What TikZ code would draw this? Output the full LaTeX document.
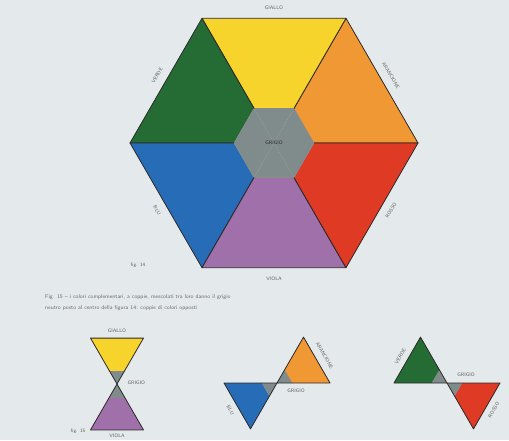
\documentclass[tikz,border=0pt]{standalone}
\usepackage{xcolor}
\usepackage{tikz}
\usetikzlibrary{calc}
\definecolor{paper}{RGB}{228,234,236}
\definecolor{ink}{RGB}{45,40,42}
\definecolor{giallo}{RGB}{246,212,44}
\definecolor{arancione}{RGB}{240,152,52}
\definecolor{rosso}{RGB}{222,58,36}
\definecolor{viola}{RGB}{160,112,170}
\definecolor{blu}{RGB}{38,108,182}
\definecolor{verde}{RGB}{36,108,52}
\definecolor{grigio}{RGB}{128,140,140}

% one coloured sector with its grey tip: centre, start angle, outer radius, inner radius, colour
\newcommand{\colsector}[5]{%
  \fill[#5] ($(#1)+(#2:#3)$) -- ($(#1)+(#2+60:#3)$) -- ($(#1)+(#2+60:#4)$) -- ($(#1)+(#2:#4)$) -- cycle;
  \fill[grigio] (#1) -- ($(#1)+(#2:#4)$) -- ($(#1)+(#2+60:#4)$) -- cycle;
  \draw[thinedge] ($(#1)+(#2:#4)$) -- ($(#1)+(#2+60:#4)$);
  \draw[edge] ($(#1)+(#2:#4)$) -- ($(#1)+(#2:#3)$) -- ($(#1)+(#2+60:#3)$) -- ($(#1)+(#2+60:#4)$);
}
% sides of the grey tip (small figures only)
\newcommand{\tipsides}[3]{%
  \draw[edge] ($(#1)+(#2:#3)$) -- (#1) -- ($(#1)+(#2+60:#3)$);
}

\begin{document}
\begin{tikzpicture}[x=1pt, y=1pt,
  lbl/.style={font=\sffamily\fontsize{5}{6}\selectfont, text=ink!75, inner sep=1.5pt},
  caption/.style={font=\sffamily\fontsize{5.5}{11}\selectfont, text=ink!70, align=left, anchor=north west, inner sep=0pt},
  edge/.style={draw=ink, line width=0.8pt, line join=round},
  thinedge/.style={draw=ink!55, line width=0.4pt}
]
\fill[paper] (0,0) rectangle (509,440);
\useasboundingbox (0,0) rectangle (509,440);

% big hexagon
\coordinate (hex) at (274,297);
\foreach \a/\c in {0/arancione,60/giallo,120/verde,180/blu,240/viola,300/rosso}
  \colsector{hex}{\a}{144}{40}{\c};

\node[lbl, text=ink] (hexgrigio) at (hex) {GRIGIO};
\node[lbl] (hexgiallo) at ($(hex)+(90:135)$) {GIALLO};
\node[lbl, rotate=-60] (hexarancione) at ($(hex)+(30:135)$) {ARANCIONE};
\node[lbl, rotate=60] (hexrosso) at ($(hex)+(330:135)$) {ROSSO};
\node[lbl] (hexviola) at ($(hex)+(270:136)$) {VIOLA};
\node[lbl, rotate=-60] (hexblu) at ($(hex)+(210:135)$) {BLU};
\node[lbl, rotate=60] (hexverde) at ($(hex)+(150:135)$) {VERDE};
\node[lbl] (fig14) at (138,175) {fig. 14};

\node[caption] (testo) at (45,146) {Fig. 15 -- i colori complementari, a coppie, mescolati tra loro danno il grigio\\
  neutro posto al centro della figura 14: coppie di colori opposti};

% complementary pairs
\coordinate (tipa) at (117,56);
\colsector{tipa}{60}{53}{15}{giallo}
\colsector{tipa}{240}{53}{15}{viola}
\tipsides{tipa}{60}{15}
\tipsides{tipa}{240}{15}
\node[lbl] (agiallo) at (117,109) {GIALLO};
\node[lbl, anchor=west] (agrigio) at (126,57) {GRIGIO};
\node[lbl] (aviola) at (117,4) {VIOLA};
\node[lbl] (fig15) at (78,9) {fig. 15};

\coordinate (tipb) at (277,57);
\colsector{tipb}{0}{53}{15}{arancione}
\colsector{tipb}{180}{53}{15}{blu}
\tipsides{tipb}{0}{15}
\tipsides{tipb}{180}{15}
\node[lbl, rotate=-60] (barancione) at ($(tipb)+(39.75,23)+(30:9)$) {ARANCIONE};
\node[lbl] (bgrigio) at (296,49) {GRIGIO};
\node[lbl, rotate=-60] (bblu) at ($(tipb)+(-39.75,-23)+(210:8)$) {BLU};

\coordinate (tipc) at (447,57);
\colsector{tipc}{120}{53}{15}{verde}
\colsector{tipc}{300}{53}{15}{rosso}
\tipsides{tipc}{120}{15}
\tipsides{tipc}{300}{15}
\node[lbl, rotate=60] (cverde) at ($(tipc)+(-39.75,23)+(150:8)$) {VERDE};
\node[lbl] (cgrigio) at (466,65) {GRIGIO};
\node[lbl, rotate=60] (crosso) at ($(tipc)+(39.75,-23)+(330:8)$) {ROSSO};
\end{tikzpicture}
\end{document}
